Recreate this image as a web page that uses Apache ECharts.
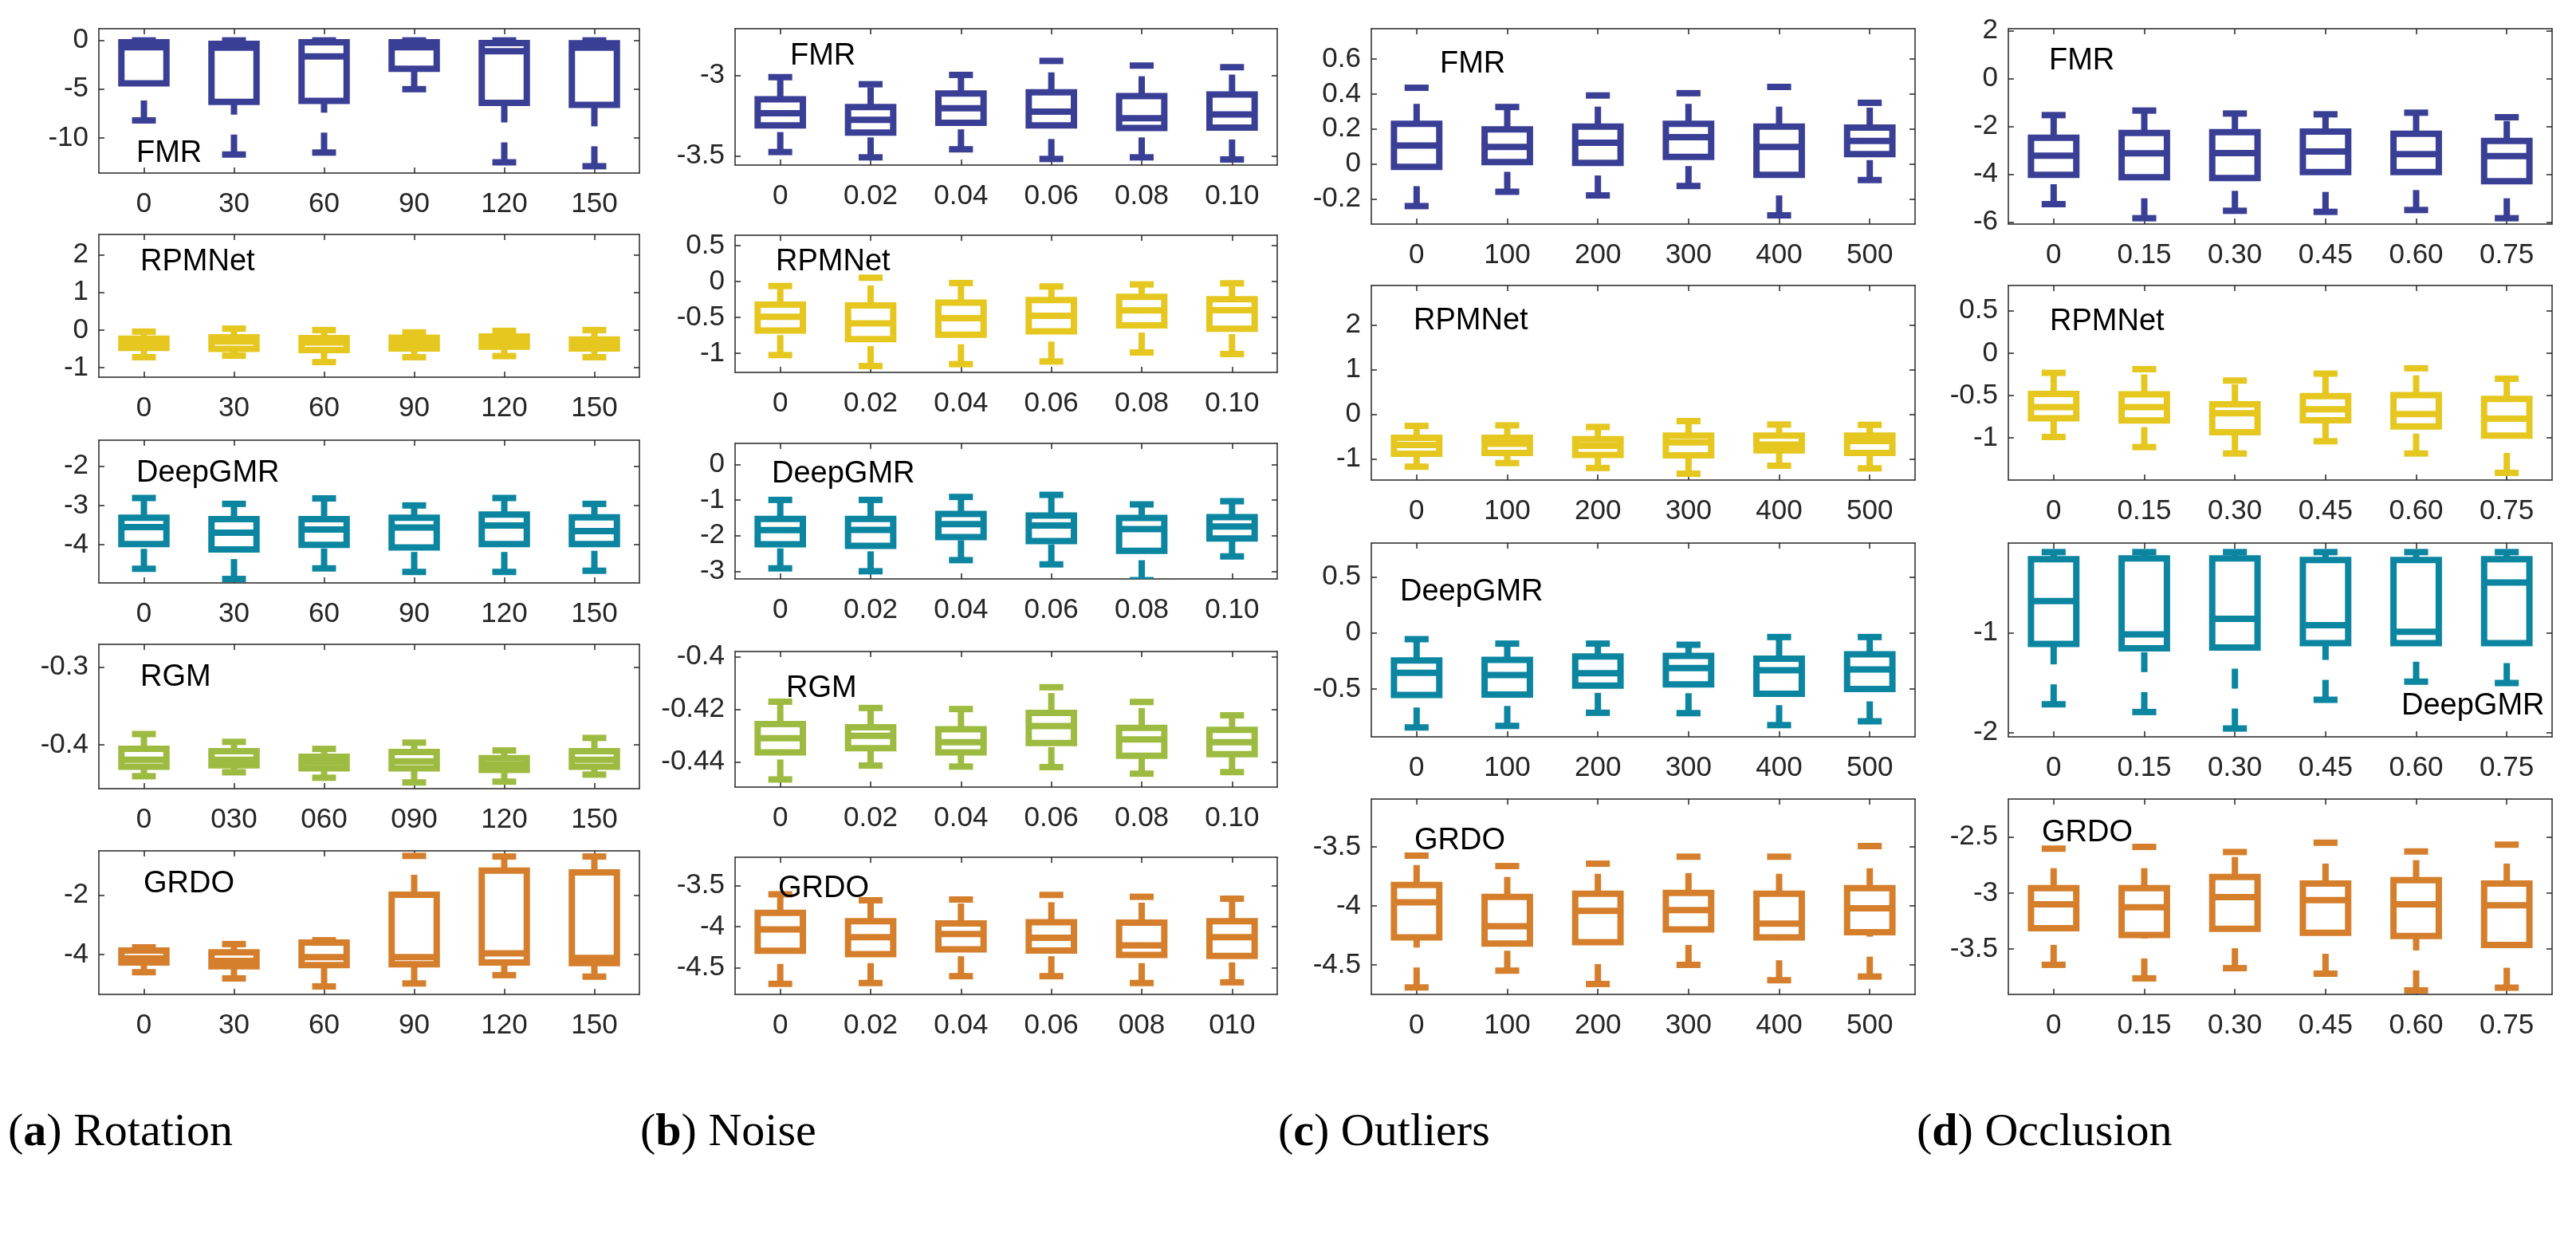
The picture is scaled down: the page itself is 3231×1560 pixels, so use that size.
<!DOCTYPE html>
<html><head><meta charset="utf-8">
<script src="https://cdn.jsdelivr.net/npm/echarts@6/dist/echarts.min.js"></script>
<style>html,body{margin:0;padding:0;background:#fff}#c{width:3231px;height:1560px}</style>
</head><body><div id="c"></div>
<script>
// ---------- categories (x tick labels) ----------
const rotationCats = ['0','30','60','90','120','150'];
const rotationCatsRGM = ['0','030','060','090','120','150'];
const noiseCats = ['0','0.02','0.04','0.06','0.08','0.10'];
const noiseCatsGRDO = ['0','0.02','0.04','0.06','008','010'];
const outlierCats = ['0','100','200','300','400','500'];
const occlusionCats = ['0','0.15','0.30','0.45','0.60','0.75'];

// ---------- box values: [lower whisker, Q1, median, Q3, upper whisker] ----------
const rotFMR = [[-8.2,-4.4,-0.7,-0.2,0.0],[-11.7,-6.3,-0.75,-0.35,0.0],[-11.5,-6.2,-1.65,-0.2,0.0],[-5.0,-2.9,-0.7,-0.2,0.0],[-12.5,-6.4,-1.1,-0.27,0.0],[-12.9,-6.6,-0.75,-0.3,0.0]];
const rotRPM = [[-0.72,-0.47,-0.35,-0.23,-0.04],[-0.68,-0.50,-0.30,-0.19,0.04],[-0.85,-0.53,-0.33,-0.21,0.0],[-0.72,-0.49,-0.35,-0.20,-0.06],[-0.69,-0.44,-0.30,-0.17,-0.02],[-0.72,-0.49,-0.37,-0.25,0.0]];
const rotDGMR = [[-4.61,-3.98,-3.55,-3.31,-2.81],[-4.87,-4.12,-3.69,-3.35,-2.96],[-4.60,-4.00,-3.61,-3.35,-2.82],[-4.69,-4.07,-3.56,-3.31,-3.00],[-4.69,-3.98,-3.51,-3.23,-2.81],[-4.66,-3.98,-3.65,-3.30,-2.96]];
const rotRGM = [[-0.440,-0.428,-0.419,-0.405,-0.386],[-0.435,-0.426,-0.419,-0.408,-0.396],[-0.442,-0.430,-0.422,-0.415,-0.405],[-0.448,-0.430,-0.421,-0.409,-0.397],[-0.447,-0.432,-0.425,-0.417,-0.407],[-0.438,-0.428,-0.419,-0.408,-0.391]];
const rotGRDO = [[-4.60,-4.27,-4.13,-3.87,-3.76],[-4.81,-4.40,-4.22,-3.93,-3.65],[-5.08,-4.36,-4.09,-3.60,-3.52],[-4.98,-4.33,-4.09,-1.98,-0.67],[-4.70,-4.27,-3.96,-1.17,-0.69],[-4.75,-4.29,-4.12,-1.23,-0.69]];

const noiseFMR = [[-3.477,-3.312,-3.236,-3.149,-3.012],[-3.510,-3.356,-3.277,-3.198,-3.056],[-3.460,-3.295,-3.205,-3.114,-2.998],[-3.520,-3.312,-3.226,-3.106,-2.911],[-3.510,-3.328,-3.267,-3.130,-2.940],[-3.523,-3.325,-3.243,-3.120,-2.950]];
const noiseRPM = [[-1.026,-0.685,-0.493,-0.322,-0.063],[-1.178,-0.804,-0.585,-0.333,0.052],[-1.152,-0.741,-0.511,-0.296,-0.022],[-1.115,-0.696,-0.478,-0.259,-0.070],[-0.989,-0.611,-0.404,-0.215,-0.041],[-1.011,-0.659,-0.400,-0.248,-0.026]];
const noiseDGMR = [[-2.918,-2.239,-1.843,-1.530,-0.993],[-3.000,-2.284,-1.836,-1.530,-0.993],[-2.687,-2.037,-1.672,-1.388,-0.910],[-2.806,-2.149,-1.716,-1.433,-0.851],[-3.250,-2.425,-1.813,-1.500,-1.119],[-2.582,-2.075,-1.739,-1.478,-1.030]];
const noiseRGM = [[-0.4467,-0.4364,-0.4310,-0.4256,-0.4171],[-0.4414,-0.4348,-0.4301,-0.4268,-0.4195],[-0.4418,-0.4364,-0.4325,-0.4276,-0.4199],[-0.4420,-0.4328,-0.4264,-0.4214,-0.4116],[-0.4445,-0.4377,-0.4315,-0.4271,-0.4172],[-0.4439,-0.4371,-0.4325,-0.4278,-0.4223]];
const noiseGRDO = [[-4.700,-4.296,-4.033,-3.831,-3.604],[-4.690,-4.336,-4.130,-3.935,-3.678],[-4.606,-4.277,-4.091,-3.961,-3.668],[-4.606,-4.293,-4.137,-3.945,-3.612],[-4.690,-4.345,-4.228,-3.951,-3.635],[-4.681,-4.358,-4.130,-3.935,-3.658]];

const outFMR = [[-0.241,-0.017,0.105,0.230,0.436],[-0.159,0.011,0.097,0.198,0.326],[-0.180,0.006,0.121,0.214,0.392],[-0.126,0.041,0.153,0.230,0.405],[-0.294,-0.062,0.097,0.214,0.441],[-0.092,0.056,0.132,0.208,0.350]];
const outRPM = [[-1.170,-0.881,-0.685,-0.524,-0.256],[-1.089,-0.863,-0.655,-0.524,-0.244],[-1.200,-0.905,-0.700,-0.554,-0.280],[-1.327,-0.917,-0.625,-0.476,-0.149],[-1.149,-0.804,-0.673,-0.476,-0.226],[-1.208,-0.863,-0.595,-0.476,-0.232]];
const outDGMR = [[-0.845,-0.555,-0.357,-0.245,-0.055],[-0.831,-0.550,-0.376,-0.240,-0.095],[-0.714,-0.471,-0.360,-0.210,-0.095],[-0.717,-0.460,-0.314,-0.205,-0.105],[-0.824,-0.543,-0.333,-0.229,-0.036],[-0.790,-0.500,-0.326,-0.190,-0.036]];
const outGRDO = [[-4.689,-4.266,-3.968,-3.822,-3.574],[-4.547,-4.318,-4.171,-3.923,-3.662],[-4.660,-4.306,-4.041,-3.896,-3.642],[-4.498,-4.198,-4.034,-3.890,-3.583],[-4.628,-4.266,-4.149,-3.896,-3.583],[-4.597,-4.221,-4.020,-3.849,-3.493]];

const occFMR = [[-5.256,-4.033,-3.233,-2.478,-1.533],[-5.844,-4.133,-3.133,-2.278,-1.344],[-5.533,-4.167,-3.122,-2.244,-1.467],[-5.578,-3.911,-3.056,-2.222,-1.500],[-5.500,-3.911,-3.167,-2.311,-1.433],[-5.844,-4.300,-3.244,-2.611,-1.622]];
const occRPM = [[-0.991,-0.770,-0.638,-0.481,-0.233],[-1.110,-0.796,-0.638,-0.487,-0.189],[-1.186,-0.934,-0.711,-0.604,-0.324],[-1.041,-0.792,-0.664,-0.509,-0.242],[-1.186,-0.865,-0.720,-0.497,-0.179],[-1.415,-0.975,-0.774,-0.541,-0.302]];
const occDGMR = [[-1.718,-1.110,-0.678,-0.257,-0.185],[-1.796,-1.155,-1.013,-0.249,-0.185],[-1.962,-1.147,-0.858,-0.249,-0.185],[-1.673,-1.102,-0.922,-0.265,-0.185],[-1.490,-1.102,-0.987,-0.265,-0.185],[-1.504,-1.102,-0.491,-0.257,-0.185]];
const occGRDO = [[-3.640,-3.314,-3.100,-2.955,-2.603],[-3.761,-3.373,-3.126,-2.955,-2.587],[-3.670,-3.318,-3.036,-2.855,-2.633],[-3.719,-3.354,-3.062,-2.914,-2.550],[-3.868,-3.382,-3.100,-2.884,-2.628],[-3.844,-3.462,-3.109,-2.914,-2.567]];

// ---------- y tick labels ----------
const rotFMRTicks = [-10,-5,0];
const rotRPMTicks = [-1,0,1,2];
const rotDGMRTicks = [-4,-3,-2];
const rotRGMTicks = [-0.4,-0.3];
const rotGRDOTicks = [-4,-2];
const noiseFMRTicks = [-3.5,-3];
const noiseRPMTicks = [-1,-0.5,0,0.5];
const noiseDGMRTicks = [-3,-2,-1,0];
const noiseRGMTicks = [-0.44,-0.42,-0.4];
const noiseGRDOTicks = [-4.5,-4,-3.5];
const outFMRTicks = [-0.2,0,0.2,0.4,0.6];
const outRPMTicks = [-1,0,1,2];
const outDGMRTicks = [-0.5,0,0.5];
const outGRDOTicks = [-4.5,-4,-3.5];
const occFMRTicks = [-6,-4,-2,0,2];
const occRPMTicks = [-1,-0.5,0,0.5];
const occDGMRTicks = [-2,-1];
const occGRDOTicks = [-3.5,-3,-2.5];

// ---------- styling / layout ----------
const COLORS = {FMR:'#3A3F96', RPMNet:'#E5C720', DeepGMR:'#0B85A0', RGM:'#9DBB40', GRDO:'#D57F2D'};
const SANS = 'Liberation Sans';
const AX = '#262626';
const colLeft = [124, 922, 1720, 2519];
const colWidth = [678, 680, 682, 682];

const panels = [
  {col:0, name:'FMR', cats:rotationCats, data:rotFMR, ticks:rotFMRTicks, top:36, h:181, min:-13.6, max:1.2, lx:171, ly:193},
  {col:0, name:'RPMNet', cats:rotationCats, data:rotRPM, ticks:rotRPMTicks, top:294, h:179, min:-1.25, max:2.54, lx:176, ly:329},
  {col:0, name:'DeepGMR', cats:rotationCats, data:rotDGMR, ticks:rotDGMRTicks, top:552, h:179, min:-4.97, max:-1.34, lx:171, ly:594},
  {col:0, name:'RGM', cats:rotationCatsRGM, data:rotRGM, ticks:rotRGMTicks, top:808, h:181, min:-0.456, max:-0.271, lx:176, ly:850},
  {col:0, name:'GRDO', cats:rotationCats, data:rotGRDO, ticks:rotGRDOTicks, top:1067, h:180, min:-5.35, max:-0.50, lx:180, ly:1109},

  {col:1, name:'FMR', cats:noiseCats, data:noiseFMR, ticks:noiseFMRTicks, top:36, h:171, min:-3.558, max:-2.711, lx:991, ly:71},
  {col:1, name:'RPMNet', cats:noiseCats, data:noiseRPM, ticks:noiseRPMTicks, top:295, h:172, min:-1.267, max:0.644, lx:973, ly:329},
  {col:1, name:'DeepGMR', cats:noiseCats, data:noiseDGMR, ticks:noiseDGMRTicks, top:556, h:170, min:-3.216, max:0.597, lx:968, ly:595},
  {col:1, name:'RGM', cats:noiseCats, data:noiseRGM, ticks:noiseRGMTicks, top:817, h:170, min:-0.4496, max:-0.398, lx:986, ly:864},
  {col:1, name:'GRDO', cats:noiseCatsGRDO, data:noiseGRDO, ticks:noiseGRDOTicks, top:1075, h:172, min:-4.829, max:-3.151, lx:976, ly:1115},

  {col:2, name:'FMR', cats:outlierCats, data:outFMR, ticks:outFMRTicks, top:36, h:245, min:-0.344, max:0.774, lx:1806, ly:81},
  {col:2, name:'RPMNet', cats:outlierCats, data:outRPM, ticks:outRPMTicks, top:358, h:244, min:-1.47, max:2.89, lx:1773, ly:403},
  {col:2, name:'DeepGMR', cats:outlierCats, data:outDGMR, ticks:outDGMRTicks, top:681, h:243, min:-0.929, max:0.805, lx:1756, ly:743},
  {col:2, name:'GRDO', cats:outlierCats, data:outGRDO, ticks:outGRDOTicks, top:1002, h:245, min:-4.748, max:-3.095, lx:1774, ly:1055},

  {col:3, name:'FMR', cats:occlusionCats, data:occFMR, ticks:occFMRTicks, top:36, h:245, min:-6.089, max:2.078, lx:2570, ly:77},
  {col:3, name:'RPMNet', cats:occlusionCats, data:occRPM, ticks:occRPMTicks, top:358, h:244, min:-1.5, max:0.8, lx:2571, ly:404},
  {col:3, name:'DeepGMR', cats:occlusionCats, data:occDGMR, ticks:occDGMRTicks, top:681, h:243, min:-2.046, max:-0.094, lx:3012, ly:886},
  {col:3, name:'GRDO', cats:occlusionCats, data:occGRDO, ticks:occGRDOTicks, top:1002, h:245, min:-3.904, max:-2.16, lx:2561, ly:1045}
];

const captions = [
  {letter:'a', word:'Rotation', x:10},
  {letter:'b', word:'Noise', x:803},
  {letter:'c', word:'Outliers', x:1603},
  {letter:'d', word:'Occlusion', x:2404}
];

function renderBox(params, api) {
  const i = api.value(0);
  const ys = [1,2,3,4,5].map(k => api.coord([i, api.value(k)])[1]);
  const cx = api.coord([i, api.value(1)])[0];
  const [yLow, yQ1, yMed, yQ3, yHigh] = ys;
  const band = api.size([1, 0])[0];
  const bw = band * 0.5, cw = band * 0.265;
  const color = api.visual('color');
  const lw = 8;
  const solid = {stroke: color, lineWidth: lw, fill: 'none', lineCap: 'butt'};
  const dashed = {stroke: color, lineWidth: lw, fill: 'none', lineDash: [25, 25], lineCap: 'butt'};
  return {type: 'group', children: [
    {type: 'line', shape: {x1: cx, y1: yQ3, x2: cx, y2: yHigh}, style: dashed},
    {type: 'line', shape: {x1: cx, y1: yLow, x2: cx, y2: yQ1}, style: dashed},
    {type: 'line', shape: {x1: cx - cw/2, y1: yHigh, x2: cx + cw/2, y2: yHigh}, style: solid},
    {type: 'line', shape: {x1: cx - cw/2, y1: yLow, x2: cx + cw/2, y2: yLow}, style: solid},
    {type: 'rect', shape: {x: cx - bw/2, y: yQ3, width: bw, height: yQ1 - yQ3}, style: solid},
    {type: 'line', shape: {x1: cx - bw/2, y1: yMed, x2: cx + bw/2, y2: yMed}, style: solid}
  ]};
}

const grid = [], xAxis = [], yAxis = [], series = [], graphic = [];
const lineStyle = {color: AX, width: 1.5};
panels.forEach((p, i) => {
  grid.push({left: colLeft[p.col], width: colWidth[p.col], top: p.top, height: p.h, containLabel: false});
  const xBase = {gridIndex: i, type: 'category', data: p.cats, boundaryGap: true,
    axisLine: {show: true, onZero: false, lineStyle},
    axisTick: {show: true, inside: true, alignWithLabel: true, length: 7, lineStyle},
    splitLine: {show: false}};
  xAxis.push(Object.assign({}, xBase, {position: 'bottom',
    axisLabel: {show: true, interval: 0, fontSize: 35, fontFamily: SANS, color: AX, margin: 22}}));
  xAxis.push(Object.assign({}, xBase, {position: 'top', axisLabel: {show: false}}));
  const yBase = {gridIndex: i, type: 'value', min: p.min, max: p.max, scale: true,
    axisLine: {show: true, onZero: false, lineStyle},
    axisTick: {show: true, inside: true, length: 7, lineStyle, customValues: p.ticks},
    splitLine: {show: false}};
  yAxis.push(Object.assign({}, yBase, {position: 'left',
    axisLabel: {show: true, customValues: p.ticks, fontSize: 35, fontFamily: SANS, color: AX, margin: 13,
      formatter: v => String(v)}}));
  yAxis.push(Object.assign({}, yBase, {position: 'right', axisLabel: {show: false}}));
  series.push({type: 'custom', xAxisIndex: 2*i, yAxisIndex: 2*i, clip: true, silent: true,
    itemStyle: {color: COLORS[p.name]},
    encode: {x: 0, y: [1,2,3,4,5]},
    data: p.data.map((d, k) => [k].concat(d)),
    renderItem: renderBox});
  graphic.push({type: 'text', x: p.lx, y: p.ly, z: 100, silent: true,
    style: {text: p.name, fontSize: 38, fontFamily: SANS, fill: '#000', align: 'left', verticalAlign: 'middle'}});
});
captions.forEach(c => {
  graphic.push({type: 'text', x: c.x, y: 1421, silent: true,
    style: {text: '({b|' + c.letter + '}) ' + c.word, fontSize: 58, fontFamily: 'Liberation Serif', fill: '#000',
      align: 'left', verticalAlign: 'middle',
      rich: {b: {fontWeight: 'bold', fontSize: 58, fontFamily: 'Liberation Serif', fill: '#000'}}}});
});

const chart = echarts.init(document.getElementById('c'), null, {renderer: 'canvas'});
chart.setOption({animation: false, backgroundColor: '#fff', grid, xAxis, yAxis, series, graphic});
</script>
</body></html>
